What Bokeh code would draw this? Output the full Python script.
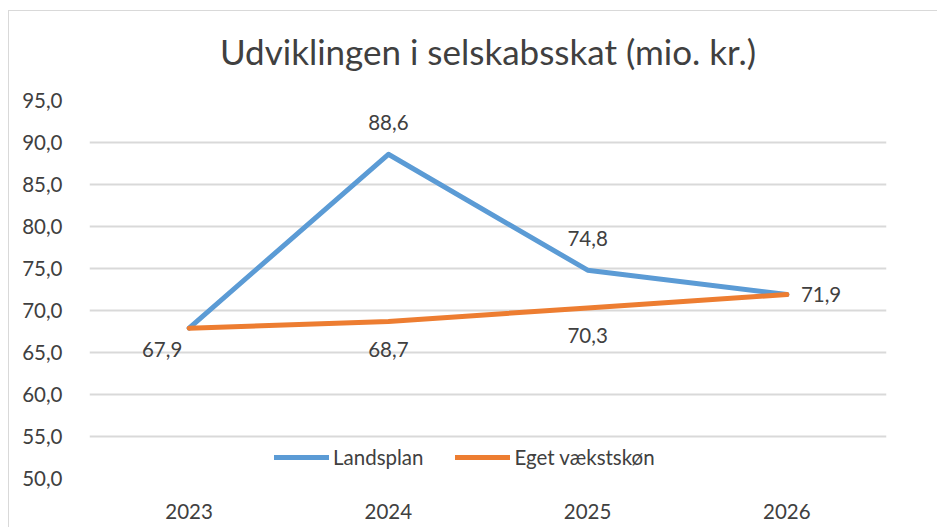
from bokeh.plotting import figure
from bokeh.models import (FactorRange, Range1d, ColumnDataSource, Legend, LegendItem,
                          SingleIntervalTicker, CustomJSTickFormatter, Title)
from bokeh.core.properties import value
from bokeh.embed import file_html
from bokeh.resources import INLINE

years = ["2023", "2024", "2025", "2026"]
landsplan = [67.9, 88.6, 74.8, 71.9]
eget = [67.9, 68.7, 70.3, 71.9]
y_min, y_max, y_step = 50, 95, 5
title_text = "Udviklingen i selskabsskat (mio. kr.)"
series_names = ["Landsplan", "Eget vækstskøn"]

FONT = "Lato"
FS = "20.5px"
TXT = "#404040"
BLUE = "#5B9BD5"
ORANGE = "#ED7D31"

def fmt(v):
    return f"{v:.1f}".replace(".", ",")

p = figure(x_range=FactorRange(factors=years, range_padding=0),
           y_range=Range1d(y_min, y_max),
           width=928, height=516, frame_width=797, frame_height=378,
           min_border_left=80, min_border_right=51, min_border_top=89, min_border_bottom=49,
           output_backend="svg", toolbar_location=None, title=None)

p.styles = {"border-left": "1px solid #d9d9d9", "border-top": "1px solid #d9d9d9",
            "margin-left": "8px", "margin-top": "10px"}
p.outline_line_color = None
p.background_fill_color = "white"
p.border_fill_color = "white"

# spacer between plot area and title, then the title itself
p.add_layout(Title(text=" ", text_font_size="11px"), "above")
p.add_layout(Title(text=title_text, align="center", text_font=FONT, text_font_size="35px",
                   text_font_style="normal", text_color=TXT), "above")

p.yaxis.ticker = SingleIntervalTicker(interval=y_step)
p.yaxis.formatter = CustomJSTickFormatter(code="return tick.toFixed(1).replace('.', ',');")
for ax in (p.xaxis[0], p.yaxis[0]):
    ax.axis_line_color = None
    ax.major_tick_line_color = None
    ax.minor_tick_line_color = None
    ax.major_label_text_font = FONT
    ax.major_label_text_font_size = FS
    ax.major_label_text_color = TXT
p.yaxis.major_label_standoff = 21
p.xaxis.major_label_standoff = 19

p.xgrid.grid_line_color = None
p.ygrid.grid_line_color = "#d9d9d9"
p.ygrid.grid_line_width = 2

src = ColumnDataSource(dict(x=years, a=landsplan, b=eget))

r1 = p.line("x", "a", source=src, line_color=BLUE, line_width=5, line_cap="round", line_join="round")
r2 = p.line("x", "b", source=src, line_color=ORANGE, line_width=5, line_cap="round", line_join="round")

# data labels
def labels(xs, ys, **kw):
    s = ColumnDataSource(dict(x=xs, y=ys, t=[fmt(v) for v in ys]))
    p.text("x", "y", text="t", source=s, text_baseline="middle",
           text_font=value(FONT), text_font_size=FS, text_color=TXT, **kw)

labels(years[1:3], landsplan[1:3], y_offset=-32, text_align="center")
labels(years[1:3], eget[1:3], y_offset=28, text_align="center")
labels(years[:1], eget[:1], x_offset=-27, y_offset=21, text_align="center")
labels(years[3:], eget[3:], x_offset=14, text_align="left")

legend = Legend(items=[LegendItem(label=series_names[0], renderers=[r1]),
                       LegendItem(label=series_names[1], renderers=[r2])],
                location=(185, 9), orientation="horizontal",
                glyph_width=55, glyph_height=20, label_standoff=4, spacing=32,
                padding=0, margin=0, border_line_color=None, background_fill_alpha=0,
                label_text_font=FONT, label_text_font_size=FS, label_text_color=TXT)
p.add_layout(legend)

open("out.html", "w").write(file_html(p, INLINE))
